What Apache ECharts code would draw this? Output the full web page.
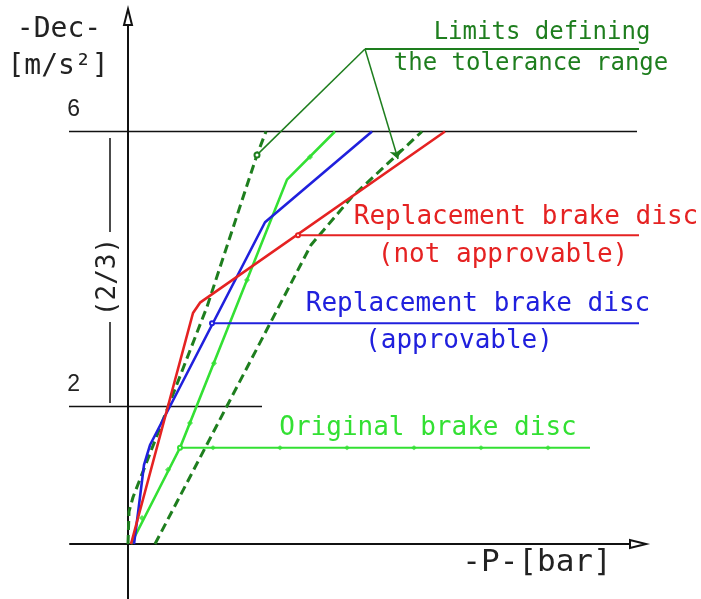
<!DOCTYPE html>
<html>
<head>
<meta charset="utf-8">
<script src="https://cdn.jsdelivr.net/npm/echarts@6/dist/echarts.min.js"></script>
<style>html,body{margin:0;padding:0;background:#fff}#c{width:701px;height:599px}</style>
</head>
<body>
<div id="c"></div>
<script>
// ---- data (x = pressure P, arbitrary units; y = deceleration Dec, m/s²) ----
const yTickValues = [2, 6];
const limitLeft  = [[0,0],[0.1,0.47],[0.5,0.68],[7.9,3.45],[12.9,5.66],[13.8,6.0]];
const limitRight = [[2.7,0],[18.3,4.35],[22.4,5.05],[29.4,6.0]];
const originalDisc = [[0.3,0],[5.2,1.40],[15.9,5.30],[20.7,6.0]];
const originalMarks = [[1.4,0.38],[4.0,1.08],[6.2,1.76],[8.6,2.63],[11.9,3.84],[18.2,5.63]];
const approvable = [[0.6,0],[1.0,0.45],[1.6,1.15],[2.2,1.44],[13.7,4.68],[24.4,6.0]];
const notApprovable = [[0.3,0],[6.5,3.36],[7.2,3.51],[31.7,6.0]];
const guide6 = [[-7.0,6],[50.9,6]];
const guide2 = [[-7.0,2],[13.4,2]];
const bracketUpper = [[-1.8,5.905],[-1.8,4.538]];
const bracketLower = [[-1.8,3.229],[-1.8,2.051]];
const leaderRed = [[17.0,4.49],[57.2,4.49]];
const leaderBlue = [[8.4,3.21],[52.7,3.21]];
const leaderGreen = [[5.2,1.40],[46.2,1.40]];
const leaderGreenMarks = [[8.5,1.40],[15.2,1.40],[21.9,1.40],[28.6,1.40],[35.3,1.40],[42.0,1.40]];
const limitsLabelLine = [[23.7,7.2],[54.8,7.2]];
const limitsPointerLeft = [[23.7,7.2],[12.9,5.66]];
const limitsPointerRight = [[23.7,7.2],[27.0,5.6]];

const labels = {
  yName1: '-Dec-', yName2: '[m/s²]', xName: '-P-[bar]', bracket: '(2/3)',
  limits1: 'Limits defining', limits2: 'the tolerance range',
  red1: 'Replacement brake disc', red2: '(not approvable)',
  blue1: 'Replacement brake disc', blue2: '(approvable)',
  green1: 'Original brake disc'
};

const RED = '#e52222', BLUE = '#2020dd', LGREEN = '#33e033', DGREEN = '#1e7e1e';
const MONO = '"DejaVu Sans Mono", "Liberation Mono", monospace';

function lineSeries(data, color, width, type, extra) {
  return Object.assign({
    type: 'line', data: data, showSymbol: false, symbol: 'none', clip: false,
    lineStyle: { color: color, width: width, type: type || 'solid' },
    silent: true, animation: false, z: 3
  }, extra || {});
}
function leader(data, color) {
  return {
    type: 'line', clip: false, silent: true, animation: false, z: 3,
    data: data.map((p, i) => i === 0 ? { value: p, symbol: 'emptyCircle', symbolSize: 4 } : { value: p, symbol: 'none' }),
    showSymbol: true, itemStyle: { color: color }, lineStyle: { color: color, width: 2 }
  };
}
function txt(text, x, y, size, color, family, rot) {
  return { type: 'text', x: x, y: y, rotation: rot || 0, silent: true,
    style: { text: text, x: 0, y: 0, align: 'center', verticalAlign: 'middle',
      font: size + 'px ' + (family || MONO), fill: color } };
}

const chart = echarts.init(document.getElementById('c'), null, { renderer: 'canvas' });
chart.setOption({
  backgroundColor: '#ffffff',
  animation: false,
  grid: { left: 70, right: 63, top: 17, bottom: 0, containLabel: false },
  xAxis: {
    type: 'value', min: -5.8, max: 51.0,
    axisLine: { onZero: true, symbol: ['none', 'emptyTriangle'], symbolSize: [8, 16],
      lineStyle: { color: '#111', width: 2 } },
    axisTick: { show: false }, axisLabel: { show: false }, splitLine: { show: false }
  },
  yAxis: {
    type: 'value', min: -0.8, max: 7.6655, interval: 0.4,
    axisLine: { onZero: true, symbol: ['none', 'emptyTriangle'], symbolSize: [8, 16],
      lineStyle: { color: '#111', width: 2 } },
    axisTick: { show: false }, splitLine: { show: false },
    axisLabel: {
      showMinLabel: true, showMaxLabel: false,
      formatter: v => { const t = yTickValues.find(k => Math.abs(k - v) < 1e-6); return t === undefined ? '' : String(t); },
      margin: -10, align: 'right', verticalAlign: 'bottom', padding: [0, 0, 10, 0],
      fontFamily: '"Liberation Sans", Arial, sans-serif', fontSize: 23, color: '#222'
    }
  },
  series: [
    lineSeries(guide6, '#111', 1.5),
    lineSeries(guide2, '#111', 1.5),
    lineSeries(bracketUpper, '#111', 1.5),
    lineSeries(bracketLower, '#111', 1.5),
    lineSeries(limitLeft, DGREEN, 3, [9, 5]),
    lineSeries(limitRight, DGREEN, 3, [9, 5]),
    lineSeries(originalDisc, LGREEN, 2.6),
    lineSeries(approvable, BLUE, 2.6),
    lineSeries(notApprovable, RED, 2.6),
    leader(leaderRed, RED),
    leader(leaderBlue, BLUE),
    leader(leaderGreen, LGREEN),
    { type: 'scatter', data: originalMarks, symbol: 'diamond', symbolSize: 6, clip: false,
      itemStyle: { color: LGREEN }, silent: true, animation: false, z: 4 },
    { type: 'scatter', data: leaderGreenMarks, symbol: 'diamond', symbolSize: [6, 5], clip: false,
      itemStyle: { color: LGREEN }, silent: true, animation: false, z: 4 },
    lineSeries(limitsLabelLine, DGREEN, 2),
    lineSeries(limitsPointerLeft, DGREEN, 1.5, 'solid', {
      data: limitsPointerLeft.map((p, i) => i === 1 ? { value: p, symbol: 'emptyCircle', symbolSize: 5 } : { value: p, symbol: 'none' }),
      showSymbol: true, itemStyle: { color: DGREEN } }),
    { type: 'lines', coordinateSystem: 'cartesian2d', clip: false, silent: true, animation: false, z: 4,
      symbol: ['none', 'arrow'], symbolSize: 9,
      lineStyle: { color: DGREEN, width: 1.5, opacity: 1 },
      data: [{ coords: limitsPointerRight }] }
  ],
  graphic: [
    txt(labels.yName1, 59, 30, 28, '#222'),
    txt(labels.yName2, 58, 67, 28, '#222'),
    txt(labels.xName, 537, 563, 31, '#222'),
    txt(labels.bracket, 108, 277, 26, '#222', null, Math.PI / 2),
    txt(labels.limits1, 542, 33, 24, DGREEN),
    txt(labels.limits2, 531, 64, 24, DGREEN),
    txt(labels.red1, 526, 217, 26, RED),
    txt(labels.red2, 503, 255, 26, RED),
    txt(labels.blue1, 478, 304, 26, BLUE),
    txt(labels.blue2, 459, 341, 26, BLUE),
    txt(labels.green1, 428, 428, 26, LGREEN)
  ]
});
</script>
</body>
</html>
